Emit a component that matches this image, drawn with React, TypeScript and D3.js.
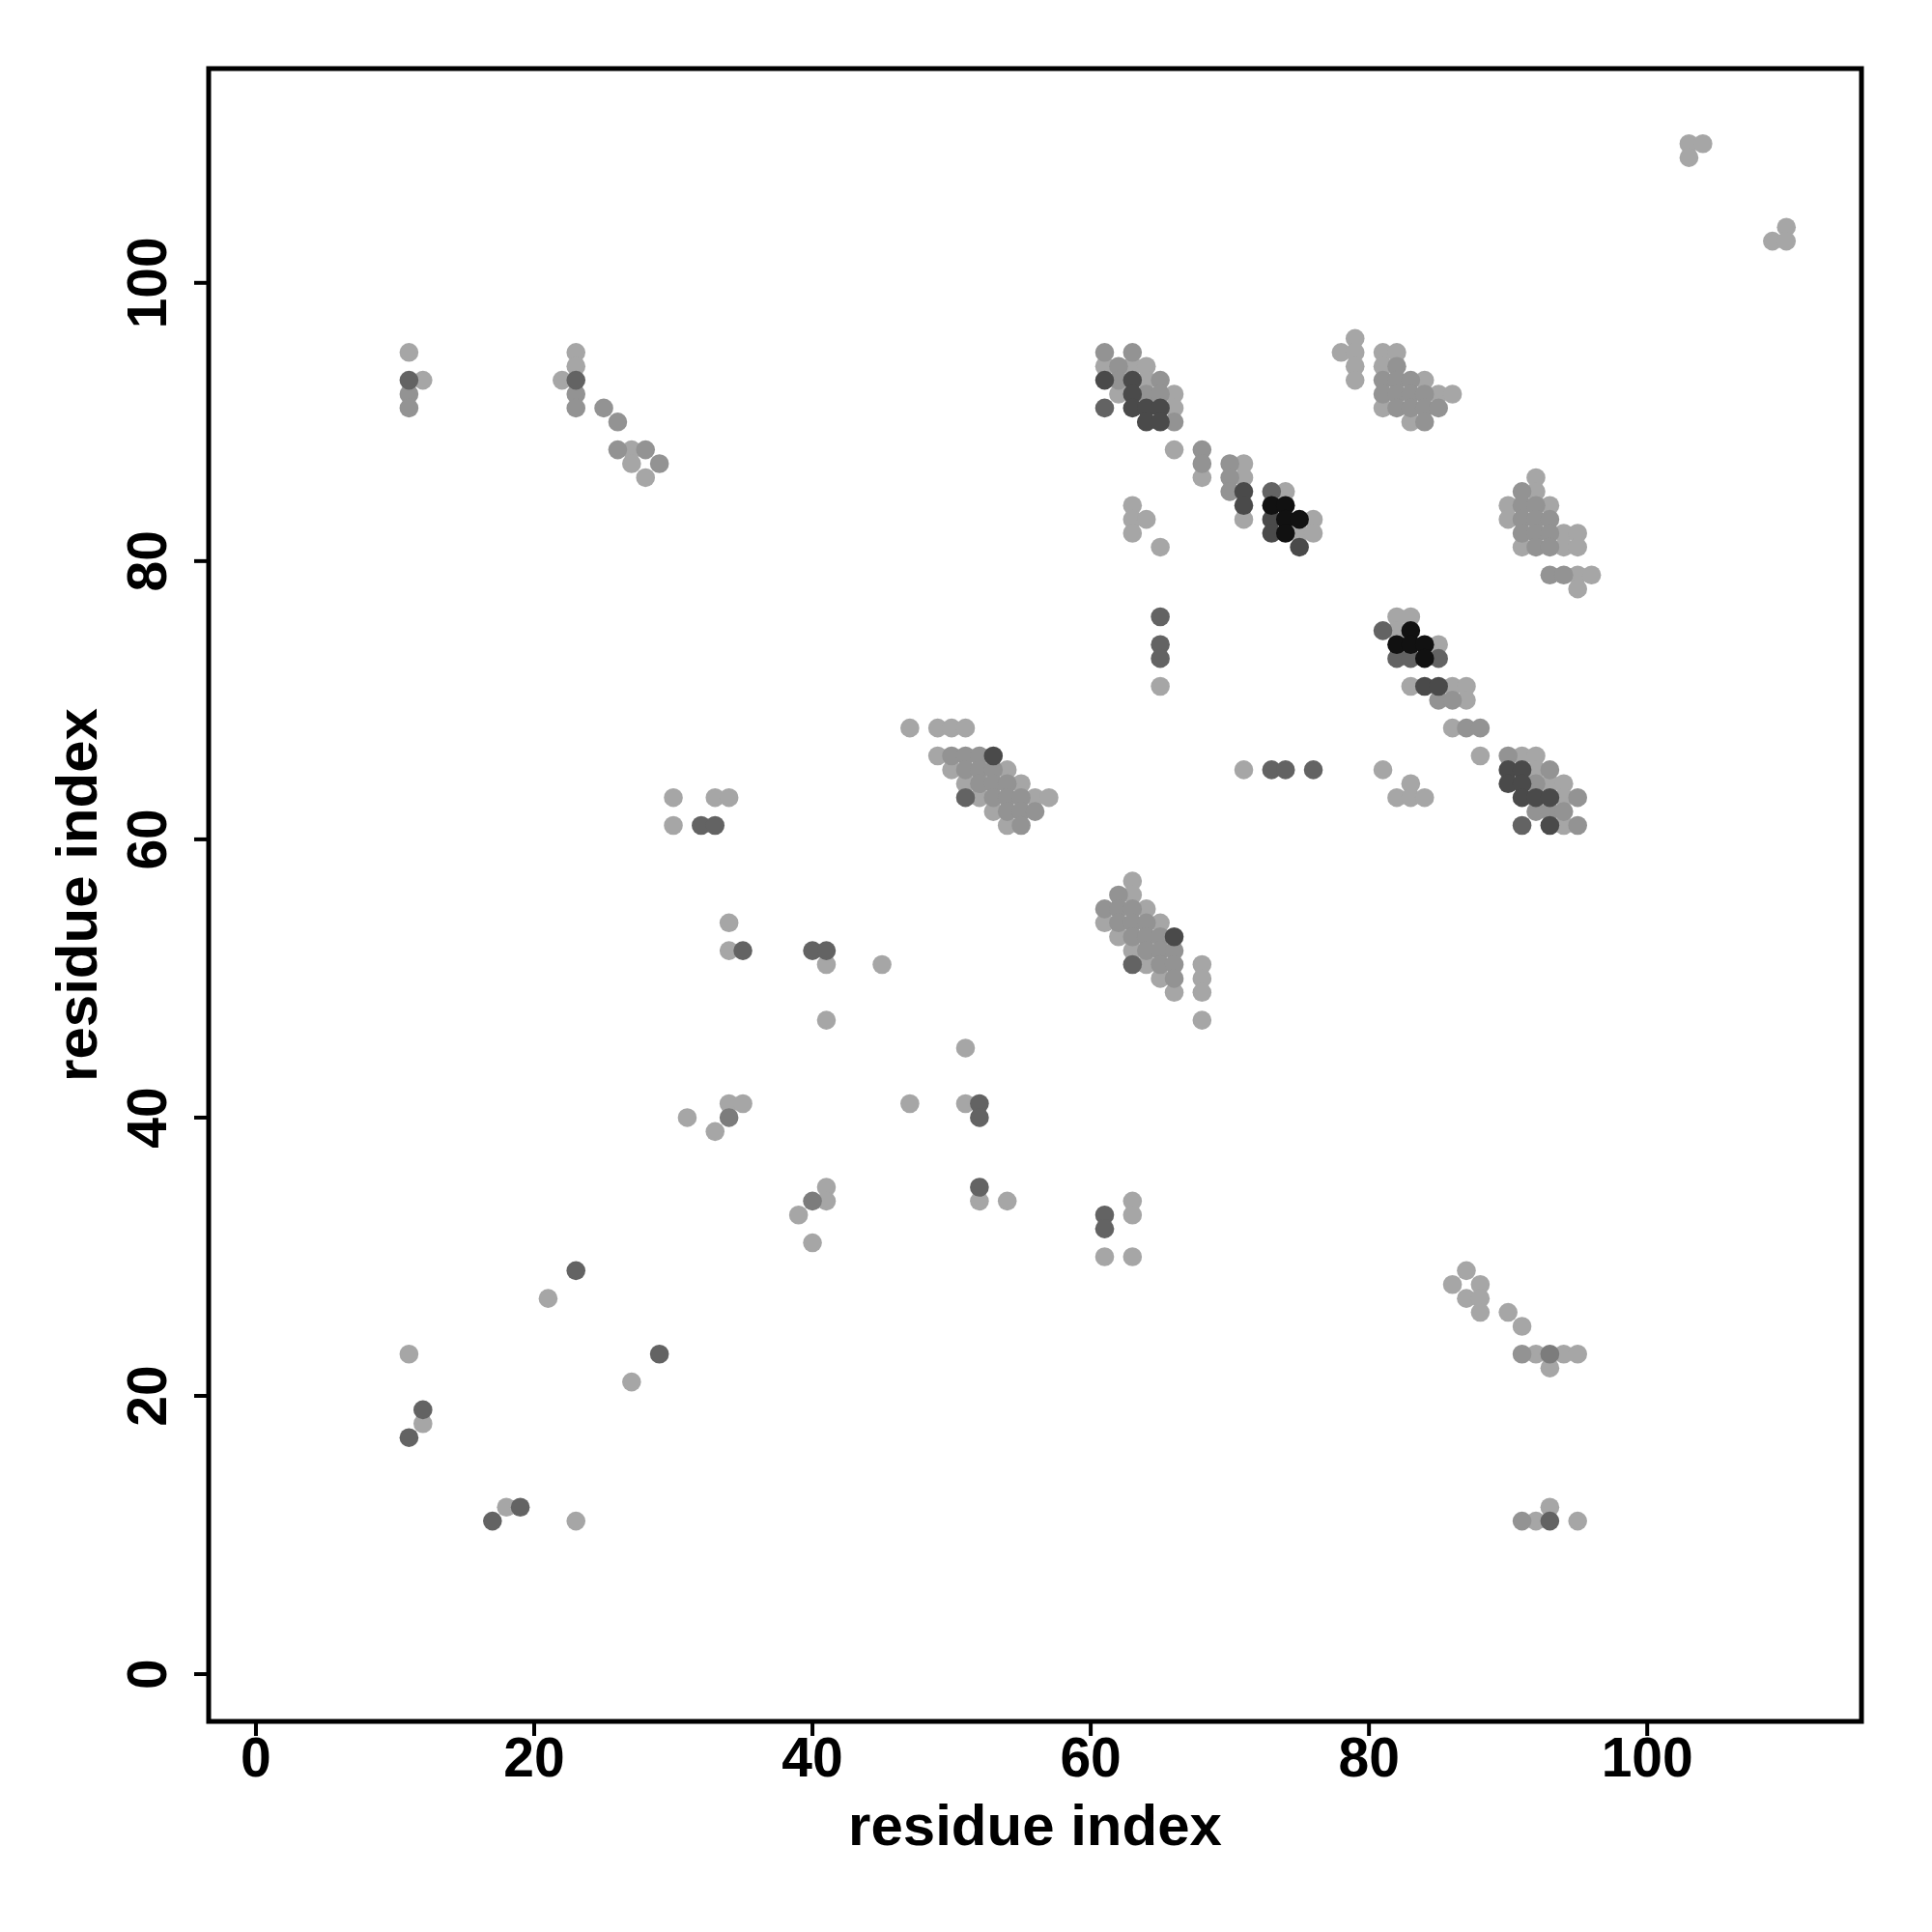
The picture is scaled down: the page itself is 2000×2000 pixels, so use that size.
import React from "react";
import * as d3 from "d3";

// residue index range of the contact map
const residueMin = 1;
const residueMax = 111;
const tickValues = [0, 20, 40, 60, 80, 100];
const axisTitle = "residue index";

// contacts grouped by shade: [residue i, residue j]
const lightContacts: [number, number][] = [
  [11, 95], [12, 93], [23, 95], [23, 94], [22, 93], [27, 88], [27, 87], [28, 86],
  [61, 94], [63, 94], [64, 94], [64, 93], [62, 92], [66, 92], [66, 91], [66, 88],
  [68, 86], [71, 87], [71, 86], [71, 83], [74, 85], [76, 83], [75, 82], [76, 82],
  [63, 84], [63, 83], [64, 83], [63, 82], [65, 81],
  [78, 95], [79, 96], [79, 95], [79, 94], [79, 93], [81, 95], [82, 95], [81, 94],
  [84, 93], [85, 92], [86, 92], [81, 91], [83, 90],
  [92, 86], [92, 85], [90, 84], [93, 84], [90, 83], [94, 82], [95, 82], [91, 81],
  [94, 81], [95, 81], [95, 79], [96, 79], [95, 78],
  [82, 76], [83, 76], [82, 75], [85, 74], [83, 71], [86, 71], [87, 71], [87, 70],
  [86, 68], [88, 66], [91, 66], [92, 66], [92, 65], [93, 64], [94, 64], [94, 63],
  [94, 61], [81, 65], [83, 64], [82, 63], [83, 63], [84, 63],
  [65, 71], [71, 65],
  [47, 68], [49, 68], [50, 68], [51, 68], [49, 66], [50, 65], [54, 65], [51, 64],
  [55, 64], [52, 63], [56, 63], [57, 63], [53, 62], [54, 61],
  [63, 57], [63, 56], [64, 55], [61, 54], [65, 54], [62, 53], [63, 52], [64, 51],
  [68, 51], [65, 50], [68, 50], [66, 49], [68, 49], [68, 47],
  [30, 63], [33, 63], [34, 63], [30, 61], [34, 54], [34, 52], [41, 51], [45, 51],
  [41, 47], [51, 45], [31, 40], [34, 41], [35, 41], [33, 39], [47, 41], [51, 41],
  [41, 35], [41, 34], [39, 33], [40, 31], [52, 34], [54, 34], [63, 34], [63, 33],
  [61, 30], [63, 30],
  [21, 27], [11, 23], [27, 21], [12, 18], [18, 12], [23, 11],
  [87, 29], [86, 28], [88, 28], [87, 27], [88, 27], [88, 26], [90, 26], [91, 25],
  [92, 23], [94, 23], [95, 23], [93, 22], [92, 11], [95, 11], [93, 12],
  [103, 110], [104, 110], [103, 109], [110, 104], [109, 103], [110, 103],
];

const mediumContacts: [number, number][] = [
  [11, 92], [11, 91], [23, 92], [23, 91], [25, 91], [26, 90], [26, 88], [28, 88], [29, 87],
  [61, 95], [63, 95], [62, 94], [62, 93], [65, 93], [64, 92], [65, 92], [66, 90],
  [68, 88], [68, 87], [70, 87], [70, 86], [70, 85],
  [82, 94], [81, 93], [82, 93], [83, 93], [81, 92], [82, 92], [83, 92], [84, 92],
  [82, 91], [83, 91], [84, 91], [85, 91], [84, 90],
  [91, 85], [91, 84], [92, 84], [91, 83], [92, 83], [93, 83], [91, 82], [92, 82],
  [93, 82], [92, 81], [93, 81], [93, 79], [94, 79],
  [85, 70], [86, 70], [87, 68], [88, 68], [90, 66], [93, 65], [92, 64], [95, 63],
  [92, 62], [93, 62], [94, 62], [95, 61],
  [50, 66], [51, 66], [52, 66], [51, 65], [52, 65], [53, 65], [52, 64], [53, 64],
  [54, 64], [53, 63], [54, 63], [55, 63], [54, 62], [55, 62], [56, 62], [55, 61],
  [62, 56], [61, 55], [62, 55], [63, 55], [62, 54], [63, 54], [64, 54], [63, 53],
  [64, 53], [65, 53], [64, 52], [65, 52], [66, 52], [65, 51], [66, 51], [66, 50],
  [91, 23], [91, 11],
];

const midDarkContacts: [number, number][] = [
  [34, 40], [40, 34], [93, 23],
];

const darkContacts: [number, number][] = [
  [11, 93], [23, 93], [61, 91], [73, 85], [81, 75], [82, 73], [83, 73], [85, 73],
  [91, 61], [65, 76], [65, 74], [65, 73], [73, 65], [74, 65], [76, 65],
  [51, 63], [63, 51], [32, 61], [33, 61], [35, 52], [40, 52], [41, 52],
  [52, 41], [52, 40], [52, 35], [61, 33], [61, 32],
  [23, 29], [29, 23], [12, 19], [11, 17], [19, 12], [17, 11], [93, 11],
];

const darkerContacts: [number, number][] = [
  [61, 93], [63, 93], [63, 92], [63, 91], [64, 91], [65, 91], [64, 90], [65, 90],
  [71, 85], [71, 84], [73, 83], [73, 82], [75, 81],
  [84, 71], [85, 71], [90, 65], [91, 65], [90, 64], [91, 64], [91, 63], [92, 63],
  [93, 63], [93, 61], [53, 66], [66, 53],
];

const blackContacts: [number, number][] = [
  [73, 84], [74, 84], [74, 83], [75, 83], [74, 82],
  [83, 75], [82, 74], [83, 74], [84, 74], [84, 73],
];

const layers = [
  { data: lightContacts, color: "#a6a6a6" },
  { data: mediumContacts, color: "#939393" },
  { data: midDarkContacts, color: "#7c7c7c" },
  { data: darkContacts, color: "#636363" },
  { data: darkerContacts, color: "#4a4a4a" },
  { data: blackContacts, color: "#111111" },
];

export default function App() {
  const W = 2000;
  const H = 2000;
  const left = 216;
  const right = 1927;
  const top = 71;
  const bottom = 1782;
  const pad = (residueMax - residueMin) * 0.04;
  const x = d3.scaleLinear().domain([residueMin - pad, residueMax + pad]).range([left, right]);
  const y = d3.scaleLinear().domain([residueMin - pad, residueMax + pad]).range([bottom, top]);
  const font = "'Liberation Sans', Arial, Helvetica, sans-serif";
  const fs = 57;
  const titleFs = 60;
  const tickLen = 15;
  const sw = 5;

  return (
    <svg
      width={W}
      height={H}
      style={{ position: "absolute", left: 0, top: 0, background: "#fff" }}
      fontFamily={font}
      fontWeight="bold"
    >
      <rect x={0} y={0} width={W} height={H} fill="#fff" />
      {layers.map((layer, li) =>
        layer.data.map(([i, j], k) => (
          <circle key={`${li}-${k}`} cx={x(i)} cy={y(j)} r={9.8} fill={layer.color} />
        ))
      )}
      <rect
        x={left}
        y={top}
        width={right - left}
        height={bottom - top}
        fill="none"
        stroke="#000"
        strokeWidth={sw}
      />
      {tickValues.map((t) => (
        <g key={`xt${t}`}>
          <line x1={x(t)} x2={x(t)} y1={bottom} y2={bottom + tickLen} stroke="#000" strokeWidth={sw - 1} />
          <text x={x(t)} y={1839} fontSize={fs} textAnchor="middle" fill="#000">
            {t}
          </text>
        </g>
      ))}
      {tickValues.map((t) => (
        <g key={`yt${t}`}>
          <line x1={left} x2={left - tickLen} y1={y(t)} y2={y(t)} stroke="#000" strokeWidth={sw - 1} />
          <text
            x={172}
            y={y(t)}
            fontSize={fs}
            textAnchor="middle"
            fill="#000"
            transform={`rotate(-90, 172, ${y(t)})`}
          >
            {t}
          </text>
        </g>
      ))}
      <text x={(left + right) / 2} y={1910} fontSize={titleFs} textAnchor="middle" fill="#000">
        {axisTitle}
      </text>
      <text
        x={100}
        y={(top + bottom) / 2}
        fontSize={titleFs}
        textAnchor="middle"
        fill="#000"
        transform={`rotate(-90, 100, ${(top + bottom) / 2})`}
      >
        {axisTitle}
      </text>
    </svg>
  );
}
